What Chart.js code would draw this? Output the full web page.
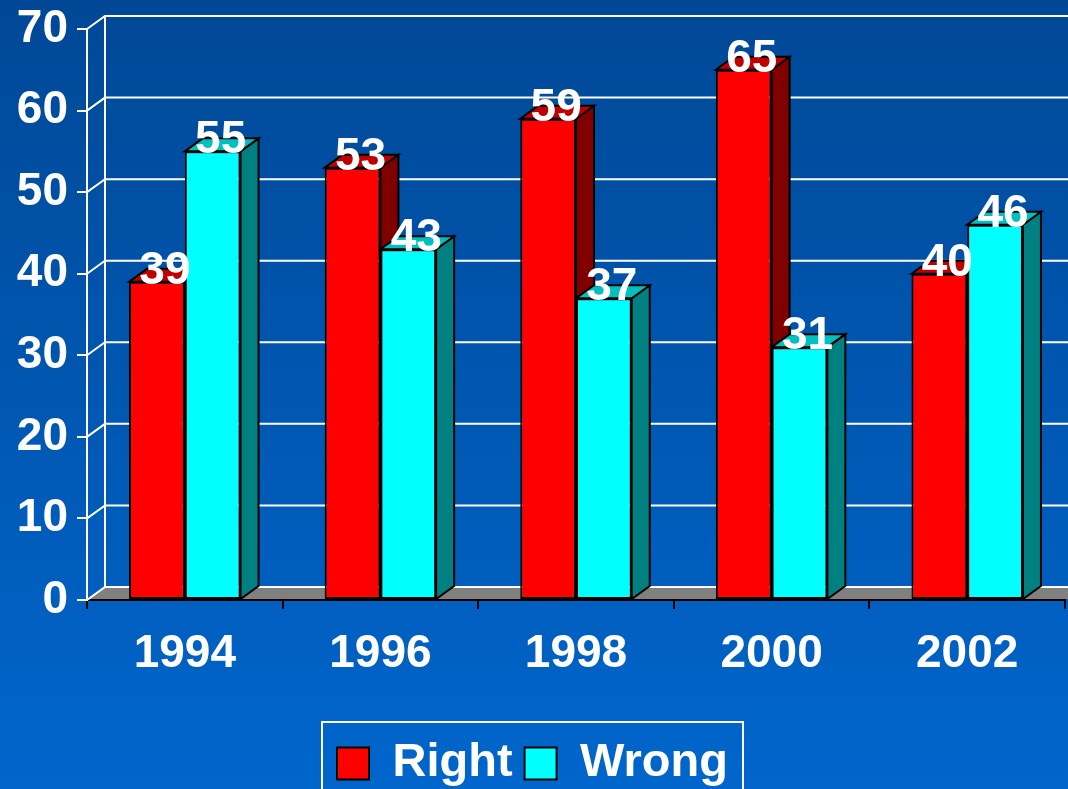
<!DOCTYPE html>
<html>
<head>
<meta charset="utf-8">
<script src="https://cdn.jsdelivr.net/npm/chart.js@4.4.1/dist/chart.umd.min.js"></script>
<style>
  html, body { margin: 0; padding: 0; background: #0058b0; }
  #wrap { width: 1068px; height: 789px; position: relative; }
</style>
</head>
<body>
<div id="wrap"><canvas id="myChart"></canvas></div>
<script>
// dane z wykresu
const years = ['1994', '1996', '1998', '2000', '2002'];
const rightValues = [39, 53, 59, 65, 40];
const wrongValues = [55, 43, 37, 31, 46];
const yTicks = [0, 10, 20, 30, 40, 50, 60, 70];

const FONT = "'Liberation Sans', Arial, sans-serif";
const DX = 18, DY = 13; // glebokosc "3D"

const shades = [
    { front: '#ff0000', side: '#800000', top: '#c00000' },
    { front: '#00ffff', side: '#008080', top: '#00c0c0' }
];

function poly(ctx, pts) {
    ctx.beginPath();
    ctx.moveTo(pts[0][0], pts[0][1]);
    for (let i = 1; i < pts.length; i++) ctx.lineTo(pts[i][0], pts[i][1]);
    ctx.closePath();
    ctx.fill();
    ctx.stroke();
}

// tlo z gradientem
const bgPlugin = {
    id: 'bg',
    beforeDraw(chart) {
        const ctx = chart.ctx;
        const g = ctx.createLinearGradient(0, 0, 0, chart.height);
        g.addColorStop(0, '#004896');
        g.addColorStop(1, '#0066cc');
        ctx.save();
        ctx.fillStyle = g;
        ctx.fillRect(0, 0, chart.width, chart.height);
        ctx.restore();
    }
};

// tylna sciana, podloga, boki slupkow
const wallPlugin = {
    id: 'wall',
    beforeDatasetsDraw(chart) {
        const { ctx, chartArea: a, scales: { y } } = chart;
        const W = chart.width;
        const y0 = y.getPixelForValue(0);
        ctx.save();

        ctx.fillStyle = '#808080';
        ctx.beginPath();
        ctx.moveTo(a.left, y0 - 1);
        ctx.lineTo(W, y0 - 1);
        ctx.lineTo(W, y0 - DY);
        ctx.lineTo(a.left + DX, y0 - DY);
        ctx.closePath();
        ctx.fill();

        ctx.strokeStyle = '#ffffff';
        ctx.lineWidth = 2;
        yTicks.forEach(v => {
            const py = y.getPixelForValue(v);
            ctx.beginPath();
            ctx.moveTo(a.left, py);
            ctx.lineTo(a.left + DX, py - DY);
            ctx.lineTo(W, py - DY);
            ctx.stroke();
        });
        ctx.beginPath();
        ctx.moveTo(a.left + DX, y.getPixelForValue(y.max) - DY);
        ctx.lineTo(a.left + DX, y0 - DY);
        ctx.stroke();

        const metas = chart.getSortedVisibleDatasetMetas();
        ctx.strokeStyle = '#000000';
        ctx.lineWidth = 2;
        ctx.lineJoin = 'miter';
        for (let i = 0; i < years.length; i++) {
            metas.forEach((meta, d) => {
                const bar = meta.data[i];
                const l = bar.x - bar.width / 2, r = bar.x + bar.width / 2;
                const t = bar.y, b = bar.base;
                ctx.fillStyle = shades[d].side;
                poly(ctx, [[r, t], [r + DX, t - DY], [r + DX, b - DY], [r, b]]);
                ctx.fillStyle = shades[d].top;
                poly(ctx, [[l, t], [l + DX, t - DY], [r + DX, t - DY], [r, t]]);
            });
        }
        ctx.restore();
    },
    afterDatasetsDraw(chart) {
        const ctx = chart.ctx;
        ctx.save();
        ctx.fillStyle = '#ffffff';
        ctx.font = 'bold 46px ' + FONT;
        ctx.textAlign = 'center';
        ctx.textBaseline = 'alphabetic';
        chart.getSortedVisibleDatasetMetas().forEach((meta, d) => {
            const vals = chart.data.datasets[d].data;
            meta.data.forEach((bar, i) => {
                ctx.fillText(String(vals[i]), bar.x + 8, bar.y + 2);
            });
        });
        ctx.restore();
    },
    afterDraw(chart) {
        // ramka legendy
        const hb = chart.legend.legendHitBoxes;
        if (!hb || !hb.length) return;
        const last = hb[hb.length - 1];
        const ctx = chart.ctx;
        ctx.save();
        ctx.strokeStyle = '#ffffff';
        ctx.lineWidth = 2;
        const left = hb[0].left - 15;
        const right = last.left + last.width + 15;
        const top = hb[0].top - 18;
        ctx.strokeRect(left, top, right - left, chart.height + 10 - top);
        ctx.restore();
    }
};

const ctx = document.getElementById('myChart').getContext('2d');
const myChart = new Chart(ctx, {
    type: 'bar',
    data: {
        labels: years,
        datasets: [
            {
                label: 'Right',
                data: rightValues,
                backgroundColor: shades[0].front,
                borderColor: '#000000',
                borderWidth: 2,
                borderSkipped: false
            },
            {
                label: 'Wrong',
                data: wrongValues,
                backgroundColor: shades[1].front,
                borderColor: '#000000',
                borderWidth: 2,
                borderSkipped: false
            }
        ]
    },
    options: {
        responsive: true,
        maintainAspectRatio: false,
        animation: false,
        categoryPercentage: 0.57,
        barPercentage: 1.0,
        layout: { padding: { top: 0, right: 3, left: 0, bottom: -8 } },
        plugins: {
            tooltip: { enabled: false },
            legend: {
                position: 'bottom',
                labels: {
                    color: '#ffffff',
                    font: { family: FONT, size: 47, weight: 'bold' },
                    boxWidth: 32,
                    boxHeight: 32,
                    padding: 12
                }
            }
        },
        scales: {
            x: {
                grid: { offset: true, drawOnChartArea: false, color: '#000000', tickLength: 9, lineWidth: 2 },
                border: { color: '#000000', width: 2 },
                ticks: { color: '#ffffff', font: { family: FONT, size: 46, weight: 'bold' }, padding: 18 },
                afterFit: s => { s.height = 128; }
            },
            y: {
                min: 0,
                max: 70,
                ticks: { stepSize: 10, color: '#ffffff', font: { family: FONT, size: 46, weight: 'bold' }, padding: 9 },
                grid: { drawOnChartArea: false, color: '#ffffff', tickLength: 10, lineWidth: 2 },
                border: { color: '#ffffff', width: 2 },
                afterFit: s => { s.width = 87; s.paddingTop = 29; s.paddingBottom = 0; }
            }
        }
    },
    plugins: [bgPlugin, wallPlugin]
});
</script>
</body>
</html>
